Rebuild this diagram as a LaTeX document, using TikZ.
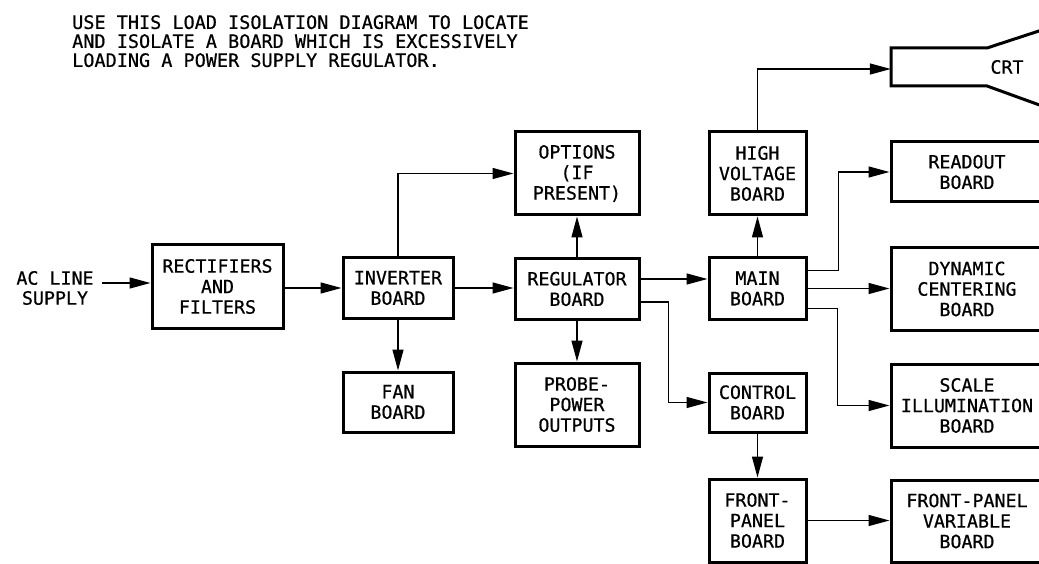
\documentclass[tikz,border=0pt]{standalone}
\usepackage{fontspec}
\newfontfamily\plt[FakeBold=0.6]{DejaVu Sans Mono}
\usetikzlibrary{arrows.meta}
\begin{document}
\begin{tikzpicture}[x=1pt,y=-1pt,
  box/.style={draw,line width=3pt,inner sep=0pt,align=center,
    font=\plt\fontsize{18.3}{20.5}\selectfont},
  conn/.style={line width=1.4pt,-{Triangle[length=21pt,width=11pt]}},
  lbl/.style={inner sep=0pt,align=center,font=\plt\fontsize{18.3}{20}\selectfont}]
\path[fill=white,use as bounding box] (0,0) rectangle (1039,564);
% heading
\node[lbl,anchor=north west,align=left,font=\plt\fontsize{18.5}{19}\selectfont] (title) at (72,15)
  {USE THIS LOAD ISOLATION DIAGRAM TO LOCATE\\AND ISOLATE A BOARD WHICH IS EXCESSIVELY\\LOADING A POWER SUPPLY REGULATOR.};
% boxes
\node[lbl,inner xsep=8pt] (ac) at (55,288) {AC LINE\\SUPPLY};
\node[box,minimum width=131,minimum height=83] (rect) at (217.5,286.5) {RECTIFIERS\\AND\\FILTERS};
\node[box,minimum width=110,minimum height=60] (inv) at (398,288) {INVERTER\\BOARD};
\node[box,minimum width=110,minimum height=60] (fan) at (398,402) {FAN\\BOARD};
\node[box,minimum width=124,minimum height=60] (reg) at (577,289) {REGULATOR\\BOARD};
\node[box,minimum width=124,minimum height=83] (opt) at (577,173.5) {OPTIONS\\(IF\\PRESENT)};
\node[box,minimum width=124,minimum height=83] (probe) at (577,404.5) {PROBE-\\POWER\\OUTPUTS};
\node[box,minimum width=97,minimum height=61] (main) at (757.5,288.5) {MAIN\\BOARD};
\node[box,minimum width=97,minimum height=83] (hv) at (757.5,173.5) {HIGH\\VOLTAGE\\BOARD};
\node[box,minimum width=97,minimum height=59] (ctrl) at (757.5,402.5) {CONTROL\\BOARD};
\node[box,minimum width=97,minimum height=83] (fp) at (757.5,520.5) {FRONT-\\PANEL\\BOARD};
\node[box,minimum width=152,minimum height=60] (readout) at (967,172) {READOUT\\BOARD};
\node[box,minimum width=152,minimum height=82] (dyn) at (967,289) {DYNAMIC\\CENTERING\\BOARD};
\node[box,minimum width=152,minimum height=83] (scale) at (967,405.5) {SCALE\\ILLUMINATION\\BOARD};
\node[box,minimum width=152,minimum height=82] (fpv) at (967,521) {FRONT-PANEL\\VARIABLE\\BOARD};
% CRT
\node[lbl,minimum width=232,minimum height=38] (crt) at (1007,67) {CRT};
\draw[line width=3pt,line join=miter] (1045,29) -- (987,48) -- (891,48) -- (891,86) -- (987,86) -- (1045,107);
% connectors
\draw[conn] ([yshift=5pt]ac.east) -- ([yshift=5pt]ac.east -| rect.west);
\draw[conn] (rect.east |- inv.west) -- (inv.west);
\draw[conn] (inv.north) |- (opt.west);
\draw[conn] (inv.south) -- (fan.north);
\draw[conn] (inv.east) -- (inv.east -| reg.west);
\draw[conn] (reg.north) -- (opt.south);
\draw[conn] (reg.south) -- (probe.north);
\draw[conn] ([yshift=10pt]reg.east) -- ([yshift=10pt]reg.east -| main.west);
\draw[conn] ([yshift=-13pt]reg.east) -- ++(28,0) |- (ctrl.west);
\draw[conn] (main.north) -- (hv.south);
\draw[conn] (hv.north) |- ([yshift=-2pt]crt.west);
\draw[conn] ([yshift=18pt]main.east) -- ++(31,0) |- (readout.west);
\draw[conn] (main.east) -- (main.east -| dyn.west);
\draw[conn] ([yshift=-20pt]main.east) -- ++(30,0) |- (scale.west);
\draw[conn] (ctrl.south) -- (fp.north);
\draw[conn] (fp.east) -- (fp.east -| fpv.west);
\end{tikzpicture}
\end{document}
